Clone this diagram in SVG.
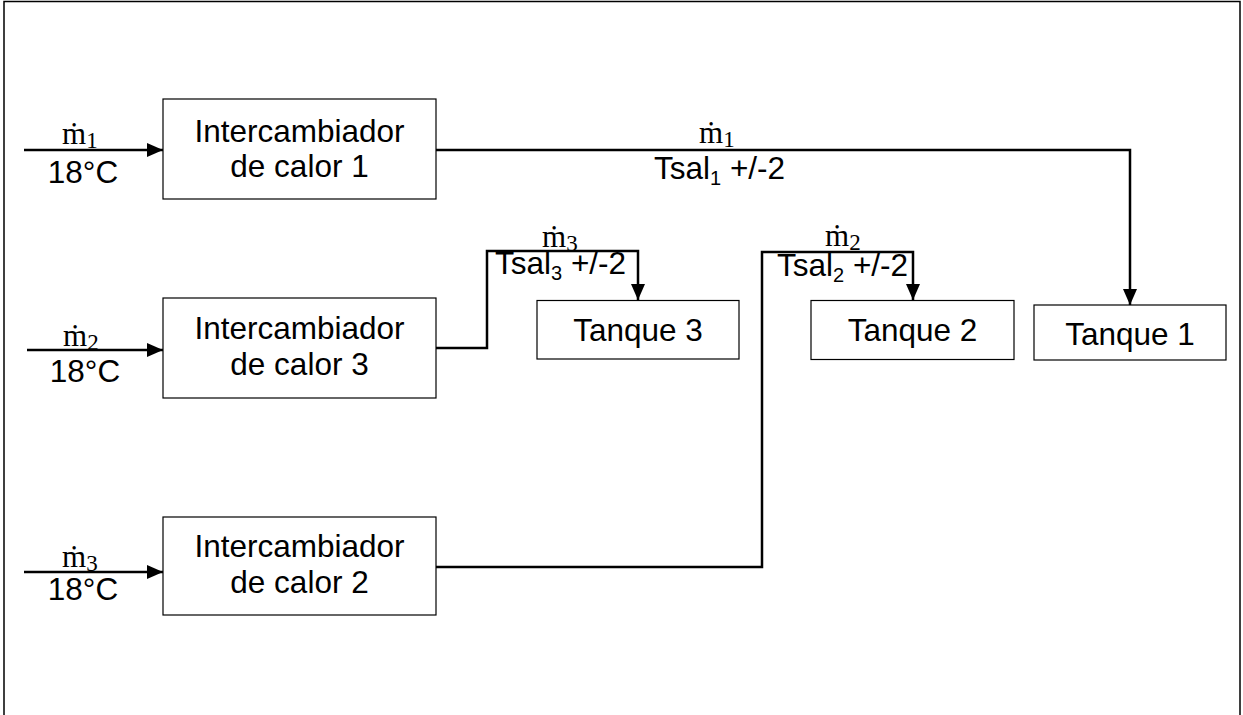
<svg xmlns="http://www.w3.org/2000/svg" width="1243" height="715" viewBox="0 0 1243 715">
<defs>
<marker id="ah" markerWidth="16" markerHeight="14" refX="16" refY="7" orient="auto" markerUnits="userSpaceOnUse">
<path d="M0,0 L16,7 L0,14 Z" fill="#000"/>
</marker>
<style>
.box{fill:#fff;stroke:#000;stroke-width:1.2}
.t{font-family:"Liberation Sans",Arial,sans-serif;font-size:31.5px;fill:#000}
.c{text-anchor:middle}
.m{font-family:"Liberation Serif","DejaVu Serif",serif;font-size:31px;fill:#000}
.sub{font-size:23px}
.ss{font-size:20px}
.ln{fill:none;stroke:#000;stroke-width:2.5}
</style>
</defs>
<rect width="1243" height="715" fill="#fff"/>
<path d="M4,715 V1.5 H1240 V715" fill="none" stroke="#000" stroke-width="1.5"/>

<g id="connectors">
<path class="ln" d="M24,150 H163" marker-end="url(#ah)"/>
<path class="ln" d="M27,350 H163" marker-end="url(#ah)"/>
<path class="ln" d="M24,572 H163" marker-end="url(#ah)"/>
<path class="ln" d="M436,150 H1130 V305" marker-end="url(#ah)"/>
<path class="ln" d="M436,348 H487 V251 H638 V300" marker-end="url(#ah)"/>
<path class="ln" d="M436,567 H762 V252 H913 V300" marker-end="url(#ah)"/>
</g>

<g id="labels">
<text class="m" x="62" y="144">ṁ<tspan class="sub" dy="4">1</tspan></text>
<text class="t c" x="83" y="183">18°C</text>
<text class="m" x="63" y="346">ṁ<tspan class="sub" dy="4">2</tspan></text>
<text class="t c" x="85" y="382">18°C</text>
<text class="m" x="62" y="567">ṁ<tspan class="sub" dy="4">3</tspan></text>
<text class="t c" x="83" y="600">18°C</text>
<text class="m" x="699" y="143">ṁ<tspan class="sub" dy="4">1</tspan></text>
<text class="t" x="654" y="179">Tsal<tspan class="ss" dy="6">1</tspan><tspan dy="-6"> +/-2</tspan></text>
<text class="m" x="542" y="247">ṁ<tspan class="sub" dy="4">3</tspan></text>
<text class="t" x="495" y="274">Tsal<tspan class="ss" dy="6">3</tspan><tspan dy="-6"> +/-2</tspan></text>
<text class="m" x="825" y="246">ṁ<tspan class="sub" dy="4">2</tspan></text>
<text class="t" x="777" y="276">Tsal<tspan class="ss" dy="6">2</tspan><tspan dy="-6"> +/-2</tspan></text>
</g>

<g id="hx1">
<rect class="box" x="163" y="99" width="273" height="100"/>
<text class="t c" x="299.5" y="142">Intercambiador</text>
<text class="t c" x="299.5" y="177">de calor 1</text>
</g>
<g id="hx3">
<rect class="box" x="163" y="298" width="273" height="100"/>
<text class="t c" x="299.5" y="339">Intercambiador</text>
<text class="t c" x="299.5" y="375">de calor 3</text>
</g>
<g id="hx2">
<rect class="box" x="163" y="517" width="273" height="98"/>
<text class="t c" x="299.5" y="557">Intercambiador</text>
<text class="t c" x="299.5" y="593">de calor 2</text>
</g>
<g id="tanque3">
<rect class="box" x="537" y="300.5" width="202" height="58.5"/>
<text class="t c" x="638" y="341">Tanque 3</text>
</g>
<g id="tanque2">
<rect class="box" x="811" y="300.5" width="203" height="59"/>
<text class="t c" x="912.5" y="341">Tanque 2</text>
</g>
<g id="tanque1">
<rect class="box" x="1034" y="305" width="192" height="55"/>
<text class="t c" x="1130" y="345">Tanque 1</text>
</g>
</svg>
